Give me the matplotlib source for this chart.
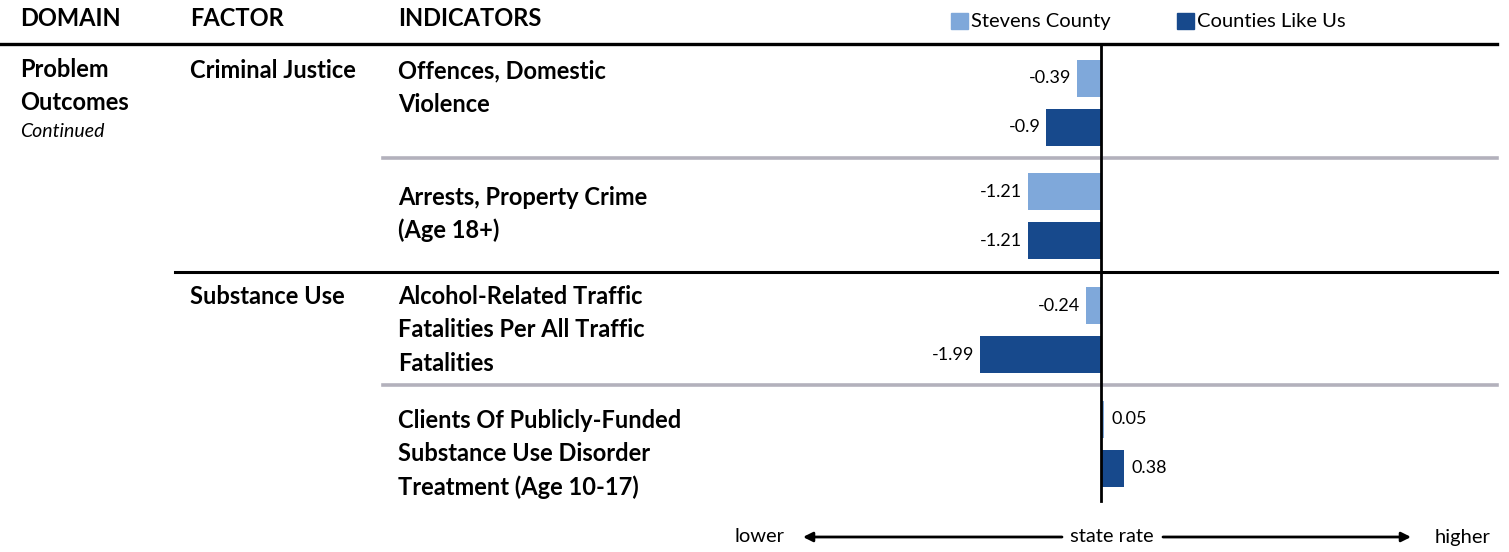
import matplotlib
matplotlib.use("Agg")
import matplotlib.pyplot as plt

plt.rcParams['font.family'] = ['Lato', 'DejaVu Sans']

# ---- data ----
headers = ["DOMAIN", "FACTOR", "INDICATORS"]
series_names = ["Stevens County", "Counties Like Us"]
domain_lines = ["Problem", "Outcomes"]
domain_note = "Continued"
factors = ["Criminal Justice", "Substance Use"]
factor_rows = [0, 2]
indicators = [
    ["Offences, Domestic", "Violence"],
    ["Arrests, Property Crime", "(Age 18+)"],
    ["Alcohol-Related Traffic", "Fatalities Per All Traffic", "Fatalities"],
    ["Clients Of Publicly-Funded", "Substance Use Disorder", "Treatment (Age 10-17)"],
]
stevens = [-0.39, -1.21, -0.24, 0.05]
counties_like_us = [-0.9, -1.21, -1.99, 0.38]
value_labels_stevens = ["-0.39", "-1.21", "-0.24", "0.05"]
value_labels_clu = ["-0.9", "-1.21", "-1.99", "0.38"]

# ---- styles / layout ----
W, H = 1509, 552
LIGHT = "#7FA8DA"
DARK = "#17498C"
GRAY = "#B3B1BC"
px_per_unit = 60.6
zero_px = 1101
top_line = 44
row_h = 113.8
first_baseline_offset = [34, 47, 32, 42.5]
line_gap = 33.5
BIG = 17
LAB_FS = 13
LEG_FS = 14.5

fig = plt.figure(figsize=(W / 100, H / 100), dpi=100)
ax = fig.add_axes([0, 0, 1, 1])
ax.set_xlim(-zero_px / px_per_unit, (W - zero_px) / px_per_unit)
ax.set_ylim(H, 0)
ax.axis("off")

def px2x(p):
    return (p - zero_px) / px_per_unit

n = len(indicators)
row_tops = [top_line + i * row_h for i in range(n)]
light_c = [t + 48 - 14 for t in row_tops]
dark_c = [t + 83 for t in row_tops]
bar_h = 37

ax.barh(light_c, stevens, height=bar_h, color=LIGHT, zorder=2)
ax.barh(dark_c, counties_like_us, height=bar_h, color=DARK, zorder=2)

def vlabel(y, v, s):
    if v < 0:
        ax.text(v - 0.1, y, s, ha="right", va="center", fontsize=LAB_FS)
    else:
        ax.text(v + 0.12, y, s, ha="left", va="center", fontsize=LAB_FS)

for y, v, s in zip(light_c, stevens, value_labels_stevens):
    vlabel(y, v, s)
for y, v, s in zip(dark_c, counties_like_us, value_labels_clu):
    vlabel(y, v, s)

# zero line
ax.plot([0, 0], [top_line, 501], color="black", lw=2, zorder=3)

# horizontal rules
ax.plot([px2x(0), px2x(1497)], [top_line, top_line], color="black", lw=2.4, zorder=3)
for i in range(1, n):
    y = row_tops[i]
    if i in factor_rows:
        ax.plot([px2x(175), px2x(1497)], [y, y], color="black", lw=2.2, zorder=3)
    else:
        ax.plot([px2x(383), px2x(1497)], [y, y], color=GRAY, lw=2.6, zorder=1)

# headers
hdr_x = [20, 190, 398]
for x, h in zip(hdr_x, headers):
    ax.text(px2x(x), 26, h, ha="left", va="baseline", fontsize=BIG, fontweight="bold")

# legend
leg_sq = [951, 1177]
for x, name, c in zip(leg_sq, series_names, [LIGHT, DARK]):
    ax.add_patch(plt.Rectangle((px2x(x), 13), 17 / px_per_unit, 16, color=c))
    ax.text(px2x(x + 20), 27, name, ha="left", va="baseline", fontsize=LEG_FS)

# domain
for k, line in enumerate(domain_lines):
    ax.text(px2x(20), 77 + k * line_gap, line, ha="left", va="baseline",
            fontsize=BIG, fontweight="bold")
ax.text(px2x(20), 137, domain_note, ha="left", va="baseline", fontsize=14, style="italic")

# factors
for r, f in zip(factor_rows, factors):
    ax.text(px2x(190), row_tops[r] + first_baseline_offset[r], f, ha="left",
            va="baseline", fontsize=BIG, fontweight="bold")

# indicators
for t, off, lines in zip(row_tops, first_baseline_offset, indicators):
    for k, line in enumerate(lines):
        ax.text(px2x(398), t + off + k * line_gap, line, ha="left", va="baseline",
                fontsize=BIG, fontweight="bold")

# bottom axis annotation
ya = 537
ax.text(px2x(735), ya, "lower", ha="left", va="center", fontsize=LEG_FS)
ax.text(px2x(1112), ya, "state rate", ha="center", va="center", fontsize=LEG_FS)
ax.text(px2x(1490), ya, "higher", ha="right", va="center", fontsize=LEG_FS)
ax.annotate("", xy=(px2x(803), ya), xytext=(px2x(1062), ya),
            arrowprops=dict(arrowstyle="-|>", color="black", lw=2, mutation_scale=14,
                            shrinkA=0, shrinkB=0))
ax.annotate("", xy=(px2x(1411), ya), xytext=(px2x(1163), ya),
            arrowprops=dict(arrowstyle="-|>", color="black", lw=2, mutation_scale=14,
                            shrinkA=0, shrinkB=0))

fig.savefig("out.png", dpi=100, facecolor="white")
